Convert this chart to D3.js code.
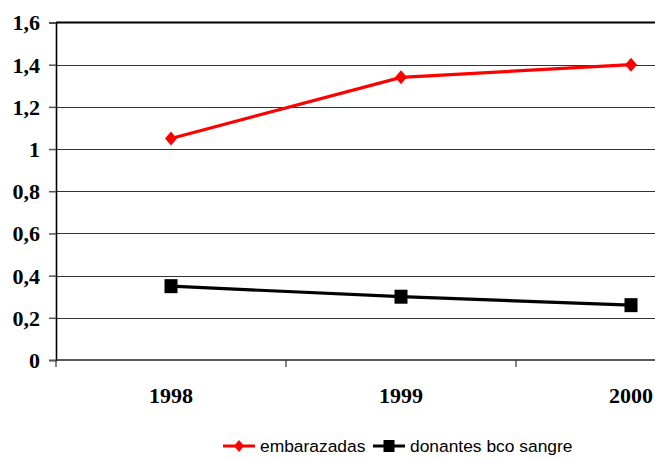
<!DOCTYPE html>
<html>
<head>
<meta charset="utf-8">
<script src="https://cdn.jsdelivr.net/npm/d3@7"></script>
<style>
  html, body { margin: 0; padding: 0; background: #fff; }
  svg { display: block; }
  .serif-label { font-family: "Liberation Serif", "Times New Roman", serif; font-weight: bold; font-size: 22px; fill: #000; }
  .legend-label { font-family: "Liberation Sans", Arial, sans-serif; font-size: 17.4px; fill: #000; }
</style>
</head>
<body>
<svg id="chart" width="655" height="459"></svg>
<script>
// Years and the two series (rate per year)
const years = ["1998", "1999", "2000"];
const embarazadas = [1.05, 1.34, 1.40];
const donantes = [0.35, 0.30, 0.26];
const yTicks = [0, 0.2, 0.4, 0.6, 0.8, 1, 1.2, 1.4, 1.6];
const seriesNames = ["embarazadas", "donantes bco sangre"];

const svg = d3.select("#chart");
const W = 655, H = 459;

// plot frame; the right side extends past the visible canvas
const plotLeft = 56, plotTop = 22.5, plotBottom = 360;
const x = d3.scaleBand().domain(years).range([plotLeft, plotLeft + 690]);
const y = d3.scaleLinear().domain([0, 1.6]).range([plotBottom, plotTop]);

const fmt = d => d3.format(".1~f")(d).replace(".", ",");

// horizontal gridlines
svg.append("g").selectAll("line")
  .data(yTicks.slice(1, -1))
  .join("line")
  .attr("x1", plotLeft).attr("x2", W)
  .attr("y1", d => Math.round(y(d)) + 0.5).attr("y2", d => Math.round(y(d)) + 0.5)
  .attr("stroke", "#333").attr("stroke-width", 1.2);

// top border of the plot area
svg.append("line")
  .attr("x1", plotLeft).attr("x2", W)
  .attr("y1", y(1.6)).attr("y2", y(1.6))
  .attr("stroke", "#000").attr("stroke-width", 2.2);

// y axis
const yAxis = d3.axisLeft(y).tickValues(yTicks).tickFormat(fmt).tickSize(7).tickPadding(9);
const gy = svg.append("g").attr("transform", `translate(${plotLeft},0)`).call(yAxis);
gy.attr("font-family", null).attr("font-size", null);
gy.select(".domain").attr("stroke", "#000").attr("stroke-width", 1.6);
gy.selectAll(".tick line").attr("stroke", "#555").attr("stroke-width", 1.5);
gy.selectAll(".tick text")
  .attr("class", "serif-label")
  .attr("fill", null)
  .attr("dy", "0.34em");

// x axis: ticks between categories, labels centered in each band
const xAxisLine = svg.append("g");
xAxisLine.append("line")
  .attr("x1", plotLeft).attr("x2", W)
  .attr("y1", plotBottom).attr("y2", plotBottom)
  .attr("stroke", "#222").attr("stroke-width", 1.6);
xAxisLine.selectAll("line.tk")
  .data(years)
  .join("line").attr("class", "tk")
  .attr("x1", d => x(d)).attr("x2", d => x(d))
  .attr("y1", plotBottom).attr("y2", plotBottom + 7)
  .attr("stroke", "#333").attr("stroke-width", 1.2);
xAxisLine.selectAll("text")
  .data(years)
  .join("text")
  .attr("class", "serif-label")
  .attr("x", d => x(d) + x.bandwidth() / 2)
  .attr("y", 403)
  .attr("text-anchor", "middle")
  .text(d => d);

const cx = d => x(d) + x.bandwidth() / 2;
const line = d3.line().x((d, i) => cx(years[i])).y(d => y(d));

// embarazadas series (red, diamonds)
svg.append("path").datum(embarazadas)
  .attr("d", line).attr("fill", "none")
  .attr("stroke", "#ff0000").attr("stroke-width", 3.2);
svg.append("g").selectAll("path")
  .data(embarazadas)
  .join("path")
  .attr("transform", (d, i) => `translate(${cx(years[i])},${y(d)})`)
  .attr("d", "M0,-7L6,0L0,7L-6,0Z")
  .attr("fill", "#ff0000");

// donantes series (black, squares)
svg.append("path").datum(donantes)
  .attr("d", line).attr("fill", "none")
  .attr("stroke", "#000").attr("stroke-width", 3.2);
svg.append("g").selectAll("rect")
  .data(donantes)
  .join("rect")
  .attr("x", (d, i) => cx(years[i]) - 6.5)
  .attr("y", d => y(d) - 7)
  .attr("width", 13).attr("height", 14)
  .attr("fill", "#000");

// legend
const leg = svg.append("g");
const items = [
  { name: seriesNames[0], color: "#ff0000", x0: 223, tx: 260, shape: "diamond" },
  { name: seriesNames[1], color: "#000", x0: 373, tx: 410, shape: "square" }
];
items.forEach(it => {
  leg.append("line")
    .attr("x1", it.x0).attr("x2", it.x0 + 32)
    .attr("y1", 446).attr("y2", 446)
    .attr("stroke", it.color).attr("stroke-width", 3);
  if (it.shape === "diamond") {
    leg.append("path")
      .attr("transform", `translate(${it.x0 + 16},446)`)
      .attr("d", "M0,-6L5,0L0,6L-5,0Z").attr("fill", it.color);
  } else {
    leg.append("rect")
      .attr("x", it.x0 + 16 - 5.5).attr("y", 440)
      .attr("width", 11).attr("height", 12).attr("fill", it.color);
  }
  leg.append("text")
    .attr("class", "legend-label")
    .attr("x", it.tx).attr("y", 452)
    .text(it.name);
});
</script>
</body>
</html>
